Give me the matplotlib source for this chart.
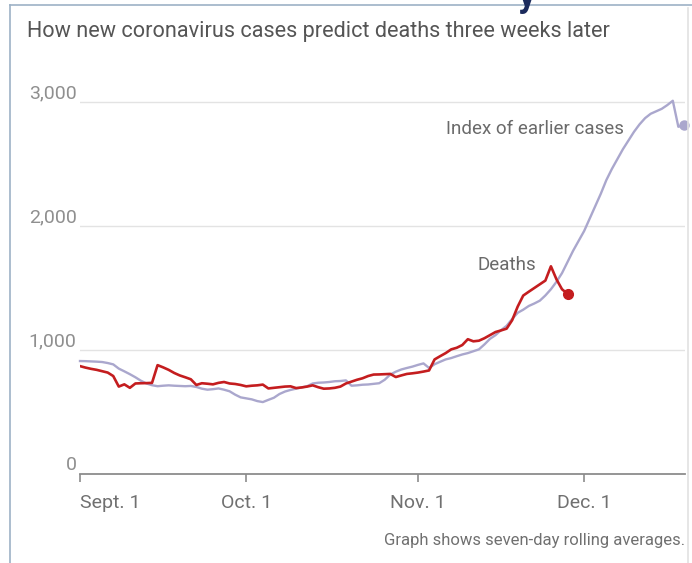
import matplotlib
matplotlib.use("Agg")
import matplotlib.pyplot as plt
import numpy as np

# ---- data (seven-day rolling averages, days since Sept. 1) ----
case_index = [911, 910, 908, 906, 903, 895, 884, 850, 828, 805,
              780, 752, 730, 716, 708, 712, 715, 712, 710, 708,
              710, 702, 688, 680, 684, 690, 680, 667, 640, 618,
              610, 602, 588, 580, 598, 615, 645, 665, 678, 688,
              698, 708, 730, 736, 738, 742, 748, 750, 755, 712,
              715, 720, 722, 727, 732, 760, 802, 825, 843, 855,
              866, 880, 892, 855, 885, 905, 924, 935, 950, 964,
              975, 990, 1005, 1045, 1090, 1120, 1160, 1195, 1250, 1300,
              1325, 1355, 1375, 1398, 1440, 1490, 1550, 1620, 1710, 1800,
              1880, 1960, 2060, 2160, 2260, 2370, 2460, 2540, 2620, 2690,
              2760, 2820, 2870, 2905, 2925, 2945, 2975, 3010, 2800, 2815]

deaths = [870, 858, 848, 840, 829, 818, 790, 705, 723, 695,
          730, 732, 733, 735, 878, 860, 840, 815, 795, 780,
          764, 718, 732, 728, 723, 735, 742, 730, 726, 718,
          707, 712, 715, 721, 690, 695, 700, 705, 707, 693,
          698, 705, 715, 700, 688, 690, 695, 705, 730, 745,
          760, 772, 790, 802, 803, 805, 807, 782, 795, 807,
          812, 818, 826, 835, 924, 950, 975, 1005, 1018, 1040,
          1087, 1070, 1075, 1095, 1120, 1145, 1158, 1172, 1240, 1350,
          1439, 1470, 1500, 1530, 1560, 1675, 1570, 1490, 1453]

x_tick_days = [0, 30, 61, 91]
x_tick_labels = ["Sept. 1", "Oct. 1", "Nov. 1", "Dec. 1"]
y_ticks = [0, 1000, 2000, 3000]
y_tick_labels = ["0", "1,000", "2,000", "3,000"]

title = "How new coronavirus cases predict deaths three weeks later"
note = "Graph shows seven-day rolling averages."
label_cases = "Index of earlier cases"
label_deaths = "Deaths"

# ---- styling ----
plt.rcParams['font.family'] = ['Roboto', 'DejaVu Sans']
CASE_COLOR = "#aaa7cd"
DEATH_COLOR = "#c41d1f"
TEXT = "#6a6a6a"

W, H = 692, 563
fig = plt.figure(figsize=(W / 100, H / 100), dpi=100)
fig.patch.set_facecolor("white")

ax = fig.add_axes([80 / W, 1 - 474 / H, (685 - 80) / W, (474 - 89.6) / H])
ax.set_xlim(0, 109.2)
ax.set_ylim(0, 3100)

days_c = np.arange(len(case_index))
days_d = np.arange(len(deaths))
ax.plot(days_c, case_index, color=CASE_COLOR, lw=1.7, zorder=3,
        solid_joinstyle="round", clip_on=False)
ax.plot(days_c[-1], case_index[-1], "o", color=CASE_COLOR, ms=6.5, zorder=4,
        clip_on=False)
ax.plot(days_d, deaths, color=DEATH_COLOR, lw=1.9, zorder=5,
        solid_joinstyle="round")
ax.plot(days_d[-1], deaths[-1], "o", color=DEATH_COLOR, ms=7, zorder=6)

# grid
for v in y_ticks[1:]:
    ax.axhline(v, color="#e3e3e3", lw=1.0, zorder=1)

for s in ["top", "right", "left"]:
    ax.spines[s].set_visible(False)
ax.spines["bottom"].set_color("#8c8c8c")
ax.spines["bottom"].set_linewidth(1.3)

ax.set_yticks(y_ticks)
ax.set_yticklabels(y_tick_labels)
ax.tick_params(axis="y", length=0, pad=2.5, labelsize=14, labelcolor="#8f8f8f")
for lab in ax.get_yticklabels():
    lab.set_va("bottom")

ax.set_xticks(x_tick_days)
ax.set_xticklabels(x_tick_labels)
ax.tick_params(axis="x", direction="out", length=5.5, width=1.2, color="#8c8c8c",
               pad=9, labelsize=14, labelcolor="#707070")
ax.get_xticklabels()[0].set_ha("left")

ax.text(66.0, 2745, label_cases, fontsize=13.5, color=TEXT, ha="left", va="baseline")
ax.text(71.8, 1645, label_deaths, fontsize=13.5, color=TEXT, ha="left", va="baseline")

fig.text(27 / W, 1 - 37 / H, title, fontsize=15.6, color="#555555",
         ha="left", va="baseline")
fig.text(685 / W, 1 - 545 / H, note, fontsize=12, color="#707070",
         ha="right", va="baseline")

# screenshot frame
fig.add_artist(plt.Line2D([10 / W, 10 / W], [0, 1 - 5 / H], color="#9db2c6", lw=1.2,
                          transform=fig.transFigure))
fig.add_artist(plt.Line2D([10 / W, 1], [1 - 5 / H, 1 - 5 / H], color="#9db2c6", lw=1.2,
                          transform=fig.transFigure))
fig.add_artist(plt.Line2D([688 / W, 688 / W], [0, 1 - 8 / H], color="#e2e2e2", lw=1.2,
                          transform=fig.transFigure))
fig.text(518 / W, 1 - 6 / H, "y", fontsize=26, color="#1b2a5c", fontweight="bold",
         ha="left", va="baseline")

fig.savefig("out.png", dpi=100, facecolor="white")
